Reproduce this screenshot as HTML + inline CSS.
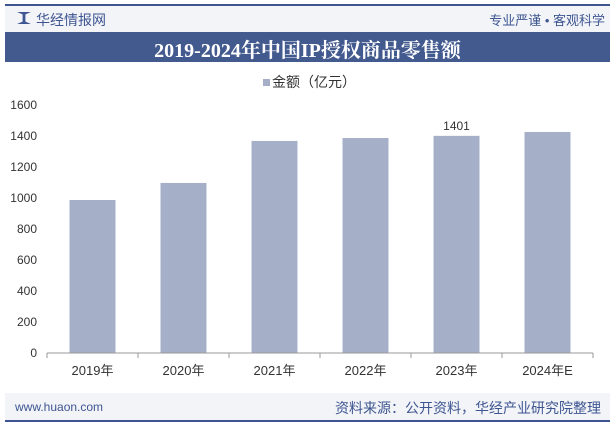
<!DOCTYPE html>
<html><head><meta charset="utf-8"><style>
body{margin:0;width:615px;height:426px;background:#fff;font-family:"Liberation Sans","Noto Sans CJK SC",sans-serif;overflow:hidden;position:relative}
.abs{position:absolute}
</style></head><body>
<div class="abs" style="left:5px;top:4px;width:605px;height:2px;background:#3d5591"></div>
<div class="abs" style="left:5px;top:6px;width:605px;height:26px;background:#f3f4f8"></div>
<div class="abs" style="left:17px;top:12px;width:14px;height:12px;background:#3d5591;clip-path:polygon(0 0,40% 20%,40% 80%,0 100%,100% 100%,60% 80%,60% 20%,100% 0)"></div>
<div class="abs" style="left:36px;top:10px;font-size:14px;color:#3d5591">华经情报网</div>
<div class="abs" style="right:10px;top:10px;font-size:13px;color:#3d5591">专业严谨 • 客观科学</div>
<div class="abs" style="left:5px;top:32px;width:605px;height:30px;background:#435a8f"></div>
<div class="abs" style="left:5px;top:34px;width:605px;text-align:center;font-size:20px;font-weight:bold;color:#fff;font-family:'Liberation Serif','Noto Serif CJK SC',serif">2019-2024年中国IP授权商品零售额</div>
<div class="abs" style="left:263px;top:79px;width:7px;height:7px;background:#a5b0c8"></div>
<div class="abs" style="left:272px;top:72px;font-size:14px;color:#333">金额（亿元）</div>
<svg id="c" class="abs" style="left:0;top:0" width="615" height="426"></svg>
<div class="abs" style="left:5px;top:393px;width:605px;height:27px;background:#f3f4f8"></div>
<div class="abs" style="left:15px;top:400px;font-size:12px;color:#3d5591">www.huaon.com</div>
<div class="abs" style="right:14px;top:398px;font-size:14px;color:#3d5591">资料来源：公开资料，华经产业研究院整理</div>
<div class="abs" style="left:5px;top:420px;width:605px;height:2px;background:#3d5591"></div>
<script>
const categories=["2019年","2020年","2021年","2022年","2023年","2024年E"];
const values=[987,1097,1368,1387,1401,1426];
const yTicks=[0,200,400,600,800,1000,1200,1400,1600];
const labelIndex=[4];
const svg=document.getElementById('c');
const NS="http://www.w3.org/2000/svg";
const x0=47,x1=593,yb=353,yt=105,ymax=1600;
const y=v=>yb-(v/ymax)*(yb-yt);
const band=(x1-x0)/categories.length;
function mk(t,a){const e=document.createElementNS(NS,t);for(const k in a)e.setAttribute(k,a[k]);svg.appendChild(e);return e;}
yTicks.forEach(t=>{
 const e=mk('text',{x:37,y:y(t)+4,'text-anchor':'end','font-size':12,fill:'#333'});e.textContent=t;
 
 
});
categories.forEach((c,i)=>{
 const cx=x0+band*(i+0.5);
 const r=mk('rect',{x:cx-23,y:y(values[i]),width:46,height:yb-y(values[i]),fill:'#a5b0c8'});
 
 
 const t=mk('text',{x:cx,y:yb+22,'text-anchor':'middle','font-size':13,fill:'#333'});t.textContent=c;
 
 
 const tk=mk('line',{x1:x0+band*i,x2:x0+band*i,y1:yb,y2:yb+5,stroke:'#999'});
 
 
 if(labelIndex.includes(i)){
  const l=mk('text',{x:cx,y:y(values[i])-6,'text-anchor':'middle','font-size':12,fill:'#333'});l.textContent=values[i];
  
  
 }
});
const ax=mk('line',{x1:x0,x2:x1,y1:yb,y2:yb,stroke:'#999'});


const tkE=mk('line',{x1:x1,x2:x1,y1:yb,y2:yb+5,stroke:'#999'});


</script>
</body></html>
